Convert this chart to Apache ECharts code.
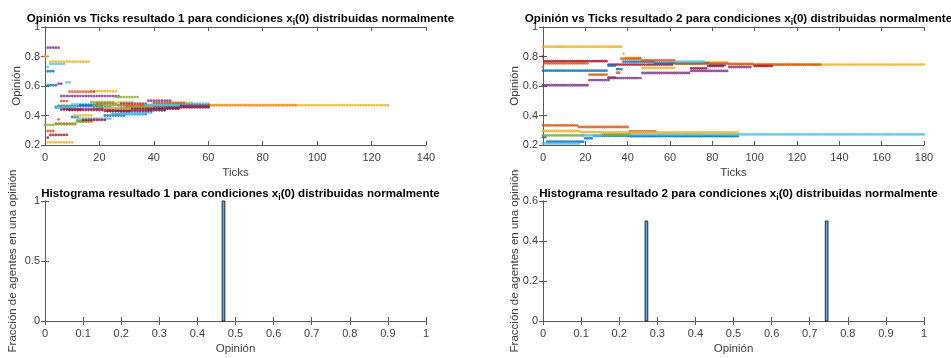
<!DOCTYPE html>
<html><head><meta charset="utf-8">
<script src="https://cdn.jsdelivr.net/npm/echarts@6/dist/echarts.min.js"></script>
<style>html,body{margin:0;padding:0;background:#fff}#c{width:951px;height:358px}</style>
</head><body><div id="c"></div><script>
// ---- Data: run 1 (opinion trajectories) — tick where value changes, value held until next change, last tick
const r1ChangeTicks = [
  [1,5,20,25,38,50],
  [1,4,12,18,30,48],
  [0,2,17,27,33,45,55],
  [1,6,28,38,47],
  [0,4,12,17,26,35,50],
  [1,2,8,10,20,28,40],
  [1,2,9,30,45],
  [1,4,10,13,22,30,45],
  [5,6,9,19,27,40,52],
  [1,11,18,26,38],
  [5,7,22,40],
  [4,12,18,28,40],
  [4,12,25,37],
  [6,14,23,32,50]
];
const r1Values = [
  [0.605,0.465,0.455,0.41,0.45,0.465],
  [0.295,0.345,0.36,0.445,0.46,0.47],
  [0.80,0.765,0.565,0.49,0.46,0.485,0.47],
  [0.86,0.532,0.48,0.50,0.47],
  [0.336,0.34,0.36,0.49,0.525,0.47,0.465],
  [0.73,0.75,0.625,0.475,0.45,0.42,0.48],
  [0.25,0.268,0.437,0.435,0.455],
  [0.70,0.455,0.39,0.47,0.40,0.44,0.46],
  [0.374,0.498,0.561,0.48,0.47,0.485,0.47],
  [0.218,0.40,0.45,0.44,0.47],
  [0.616,0.445,0.43,0.46],
  [0.46,0.365,0.47,0.455,0.47],
  [0.455,0.378,0.41,0.47],
  [0.44,0.37,0.43,0.445,0.465]
];
const r1LastTick = [60,92,126,60,60,60,60,60,60,60,60,60,60,60];

// ---- Data: run 2
const r2ChangeTicks = [
  [0,2,20,24,41],
  [0,17,41],
  [0,38,39,47,63,76,88],
  [0,22],
  [0],
  [0,18,28],
  [0,1,31],
  [0,31,35,38,53,79],
  [0,1,22,31,35,37,47,63,88,100],
  [0,18,28],
  [31,47,70,88],
  [29],
  [63],
  [70,78,86,100]
];
const r2Values = [
  [0.253,0.222,0.245,0.262,0.26],
  [0.333,0.322,0.292],
  [0.866,0.82,0.79,0.722,0.75,0.76,0.745],
  [0.605,0.64],
  [0.265],
  [0.21,0.265,0.272],
  [0.80,0.768,0.745],
  [0.704,0.738,0.715,0.765,0.755,0.742],
  [0.73,0.754,0.677,0.658,0.69,0.785,0.773,0.752,0.75,0.745],
  [0.295,0.287,0.285],
  [0.654,0.688,0.702,0.728],
  [0.268],
  [0.765],
  [0.72,0.735,null,0.735]
];
const r2LastTick = [92,53,180,31,19,180,61,86,131,92,98,41,76,108];

// ---- Histograms (bin left edge, bin right edge, fraction of agents)
const h1BinLeft = [0.465];
const h1BinRight = [0.472];
const h1Fraction = [1];
const h2BinLeft = [0.268, 0.741];
const h2BinRight = [0.275, 0.748];
const h2Fraction = [0.5, 0.5];

// ---- Axis ticks
const r1XMax = 140, r1XStep = 20;
const r2XMax = 180, r2XStep = 20;
const opinionMin = 0.2, opinionMax = 1, opinionStep = 0.2;
const h1YMax = 1, h1YStep = 0.5;
const h2YMax = 0.6, h2YStep = 0.2;
const histXStep = 0.1;

// ---- Styling
const palette = ['#0072BD','#D95319','#EDB120','#7E2F8E','#77AC30','#4DBEEE','#A2142F'];
const FONT = 'Liberation Sans, Arial, Helvetica, sans-serif';
const axisCol = '#5a5a5a', txtCol = '#404040';

function expand(ticks, vals, last){
  const pts = [];
  for (let k = 0; k < ticks.length; k++){
    const end = k + 1 < ticks.length ? ticks[k+1] - 1 : last;
    if (vals[k] === null) continue;
    for (let t = ticks[k]; t <= end; t++) pts.push([t, vals[k]]);
  }
  return pts;
}

const grids = [
  {left:45, top:27, width:381, height:118},
  {left:543, top:27, width:381, height:118},
  {left:45, top:201, width:381, height:120},
  {left:543, top:201, width:381, height:120}
];

const xAxis = [], yAxis = [];
function addAxes(gi, xmin, xmax, xint, ymin, ymax, yint, xname, yname, ynameGap){
  const common = {
    gridIndex: gi, type:'value',
    axisLine:{show:true, lineStyle:{color:axisCol, width:1}},
    axisTick:{show:true, inside:true, length:4, lineStyle:{color:axisCol}},
    splitLine:{show:false}
  };
  xAxis.push(Object.assign({}, common, {position:'bottom', min:xmin, max:xmax, interval:xint,
    axisLabel:{color:txtCol, fontSize:11, fontFamily:FONT, margin:7},
    name:xname, nameLocation:'middle', nameGap:22, nameMoveOverlap:false,
    nameTextStyle:{color:txtCol, fontSize:11.5, fontFamily:FONT}}));
  xAxis.push(Object.assign({}, common, {position:'top', min:xmin, max:xmax, interval:xint,
    axisLabel:{show:false}}));
  yAxis.push(Object.assign({}, common, {position:'left', min:ymin, max:ymax, interval:yint,
    axisLabel:{color:txtCol, fontSize:11, fontFamily:FONT, margin:5},
    name:yname, nameLocation:'middle', nameGap:ynameGap, nameMoveOverlap:false,
    nameTextStyle:{color:txtCol, fontSize:11.5, fontFamily:FONT}}));
  yAxis.push(Object.assign({}, common, {position:'right', min:ymin, max:ymax, interval:yint,
    axisLabel:{show:false}}));
}
addAxes(0, 0, r1XMax, r1XStep, opinionMin, opinionMax, opinionStep, 'Ticks', 'Opinión', 22);
addAxes(1, 0, r2XMax, r2XStep, opinionMin, opinionMax, opinionStep, 'Ticks', 'Opinión', 22);
addAxes(2, 0, 1, histXStep, 0, h1YMax, h1YStep, 'Opinión', 'Fracción de agentes en una opinión', 26);
addAxes(3, 0, 1, histXStep, 0, h2YMax, h2YStep, 'Opinión', 'Fracción de agentes en una opinión', 22);

const series = [];
r1ChangeTicks.forEach((t, i) => {
  series.push({type:'scatter', xAxisIndex:0, yAxisIndex:0, symbolSize:2.8, silent:true,
    itemStyle:{color:palette[i % palette.length]},
    data: expand(t, r1Values[i], r1LastTick[i])});
});
r2ChangeTicks.forEach((t, i) => {
  series.push({type:'scatter', xAxisIndex:2, yAxisIndex:2, symbolSize:2.8, silent:true,
    itemStyle:{color:palette[i % palette.length]},
    data: expand(t, r2Values[i], r2LastTick[i])});
});
function histSeries(xi, yi, L, R, H){
  return {type:'custom', xAxisIndex:xi, yAxisIndex:yi, silent:true,
    encode:{x:[0,1], y:2},
    data: L.map((l, i) => [l, R[i], H[i]]),
    renderItem: function(params, api){
      const p0 = api.coord([api.value(0), api.value(2)]);
      const p1 = api.coord([api.value(1), 0]);
      return {type:'rect', shape:{x:p0[0], y:p0[1], width:p1[0]-p0[0], height:p1[1]-p0[1]},
        style:{fill:'#66AAD7', stroke:'#1f2a33', lineWidth:1}};
    }};
}
series.push(histSeries(4, 4, h1BinLeft, h1BinRight, h1Fraction));
series.push(histSeries(6, 6, h2BinLeft, h2BinRight, h2Fraction));

function mkTitle(txt, n, cx, top){
  return {text:'{b|' + txt + ' ' + n + ' para condiciones x}{s|i}{b|(0) distribuidas normalmente}',
    left:cx, top:top, textAlign:'center',
    textStyle:{rich:{
      b:{fontSize:11.6, fontWeight:'bold', fontFamily:FONT, color:'#000'},
      s:{fontSize:8.5, fontWeight:'bold', fontFamily:FONT, color:'#000', padding:[7,0,0,0]}
    }}};
}

const chart = echarts.init(document.getElementById('c'), null, {renderer:'canvas'});
chart.setOption({
  animation:false,
  backgroundColor:'#fff',
  title:[
    mkTitle('Opinión vs Ticks resultado', 1, 235.5, 6),
    mkTitle('Opinión vs Ticks resultado', 2, 733.5, 6),
    mkTitle('Histograma resultado', 1, 235.5, 181),
    mkTitle('Histograma resultado', 2, 733.5, 181)
  ],
  grid: grids,
  xAxis: xAxis,
  yAxis: yAxis,
  series: series
});
</script></body></html>
